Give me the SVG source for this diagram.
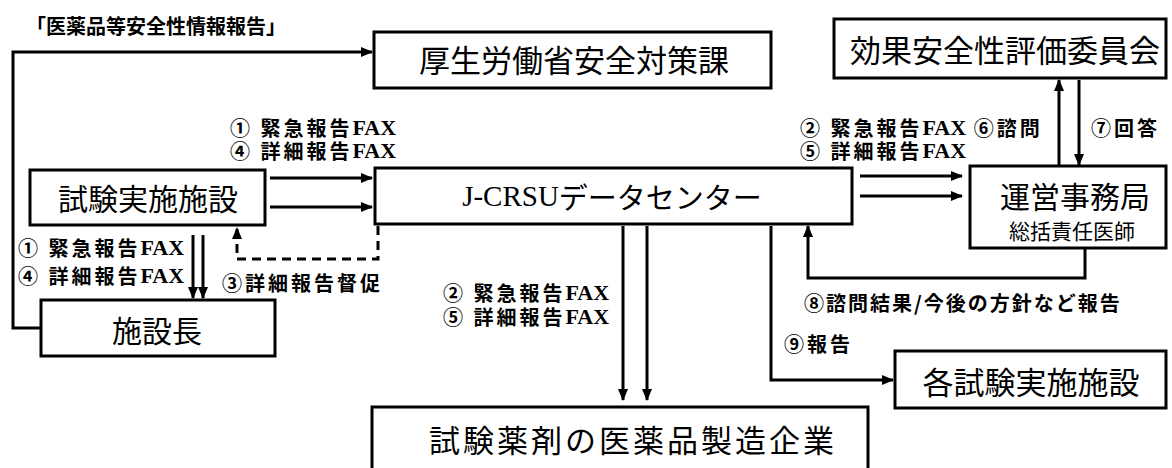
<svg xmlns="http://www.w3.org/2000/svg" width="1172" height="468" viewBox="0 0 1172 468">
<defs>
<marker id="ah" markerUnits="userSpaceOnUse" markerWidth="12" markerHeight="10" refX="11" refY="5" orient="auto">
<path d="M0,0 L12,5 L0,10 Z" fill="#000"/>
</marker>
<style>
.box{fill:#fff;stroke:#000;stroke-width:3}
.bt{font-family:"Noto Sans CJK JP",sans-serif;font-size:31px;fill:#000;text-anchor:middle;dominant-baseline:central}
.ln{fill:none;stroke:#000;stroke-width:3}
.lb{font-family:"Noto Sans CJK JP",sans-serif;font-size:20px;font-weight:bold;fill:#000;letter-spacing:3px;dominant-baseline:central}
.fx{font-family:"Liberation Serif",serif;font-weight:bold;font-size:22px;letter-spacing:0}
.dash{stroke-dasharray:9 6}
</style>
</defs>
<rect width="1172" height="468" fill="#fff"/>

<g id="connectors">
<polyline class="ln" points="41,328 13,328 13,52 372,52" marker-end="url(#ah)"/>
<line class="ln" x1="270" y1="178" x2="372" y2="178" marker-end="url(#ah)"/>
<line class="ln" x1="270" y1="207" x2="372" y2="207" marker-end="url(#ah)"/>
<line class="ln" x1="193" y1="235" x2="193" y2="298" marker-end="url(#ah)"/>
<line class="ln" x1="203" y1="235" x2="203" y2="298" marker-end="url(#ah)"/>
<polyline class="ln dash" points="378,226 378,259 237,259 237,228" marker-end="url(#ah)"/>
<line class="ln" x1="623" y1="226" x2="623" y2="400" marker-end="url(#ah)"/>
<line class="ln" x1="647" y1="226" x2="647" y2="400" marker-end="url(#ah)"/>
<line class="ln" x1="860" y1="176" x2="962" y2="176" marker-end="url(#ah)"/>
<line class="ln" x1="860" y1="196" x2="962" y2="196" marker-end="url(#ah)"/>
<line class="ln" x1="1059" y1="165" x2="1059" y2="80" marker-end="url(#ah)"/>
<line class="ln" x1="1079" y1="80" x2="1079" y2="165" marker-end="url(#ah)"/>
<polyline class="ln" points="1085,249 1085,278 808,278 808,226" marker-end="url(#ah)"/>
<polyline class="ln" points="771,226 771,380 893,380" marker-end="url(#ah)"/>
</g>

<g id="labels">
<text class="lb" x="26" y="25" style="letter-spacing:0">「医薬品等安全性情報報告」</text>
<text class="lb" x="230" y="127">① 緊急報告<tspan class="fx">FAX</tspan><tspan x="230" y="150">④ 詳細報告</tspan><tspan class="fx">FAX</tspan></text>
<text class="lb" x="18" y="247">① 緊急報告<tspan class="fx">FAX</tspan><tspan x="18" y="275">④ 詳細報告</tspan><tspan class="fx">FAX</tspan></text>
<text class="lb" x="222" y="282">③詳細報告督促</text>
<text class="lb" x="443" y="292">② 緊急報告<tspan class="fx">FAX</tspan><tspan x="443" y="316">⑤ 詳細報告</tspan><tspan class="fx">FAX</tspan></text>
<text class="lb" x="800" y="127">② 緊急報告<tspan class="fx">FAX</tspan> ⑥諮問<tspan x="800" y="150">⑤ 詳細報告</tspan><tspan class="fx">FAX</tspan></text>
<text class="lb" x="1091" y="127">⑦回答</text>
<text class="lb" x="804" y="302" style="letter-spacing:2px">⑧諮問結果/今後の方針など報告</text>
<text class="lb" x="784" y="343">⑨報告</text>
</g>

<g id="node-mhlw">
<rect class="box" x="374" y="32" width="397" height="56"/>
<text class="bt" x="574" y="58">厚生労働省安全対策課</text>
</g>
<g id="node-committee">
<rect class="box" x="834" y="19" width="332" height="59"/>
<text class="bt" x="1005" y="48">効果安全性評価委員会</text>
</g>
<g id="node-site">
<rect class="box" x="30" y="170" width="235" height="55"/>
<text class="bt" x="148" y="197" style="font-size:30px">試験実施施設</text>
</g>
<g id="node-datacenter">
<rect class="box" x="375" y="168" width="477" height="56"/>
<text class="bt" x="612" y="196" style="font-size:29px"><tspan font-family="Liberation Serif, serif">J-CRSU</tspan>データセンター</text>
</g>
<g id="node-office">
<rect class="box" x="970" y="166" width="196" height="82"/>
<text class="bt" x="1075" y="195" style="font-size:30px">運営事務局</text>
<text class="bt" x="1072" y="230" style="font-size:21px">総括責任医師</text>
</g>
<g id="node-director">
<rect class="box" x="41" y="300" width="234" height="56"/>
<text class="bt" x="157" y="329" style="font-size:30px">施設長</text>
</g>
<g id="node-sites">
<rect class="box" x="895" y="351" width="271" height="57"/>
<text class="bt" x="1031" y="380">各試験実施施設</text>
</g>
<g id="node-company">
<rect class="box" x="372" y="407" width="496" height="70"/>
<text class="bt" x="633" y="438" style="letter-spacing:3px">試験薬剤の医薬品製造企業</text>
</g>
</svg>
